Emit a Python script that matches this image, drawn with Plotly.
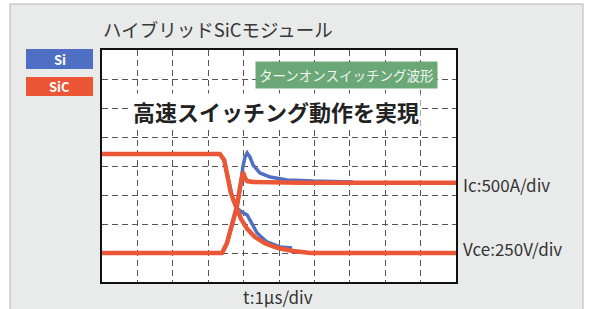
import plotly.graph_objects as go

# time in divisions (1 µs/div), signal in divisions
si_ic_t = [0, 3.39, 3.53, 3.70, 3.81, 3.90, 3.98, 4.04, 4.10, 4.18, 4.27, 4.46, 4.75, 5.23, 5.96, 7.09]
si_ic_v = [1.0, 1.0, 1.34, 2.14, 2.59, 3.17, 3.97, 4.31, 4.45, 4.31, 4.03, 3.76, 3.62, 3.52, 3.48, 3.45]
si_vce_t = [0, 3.33, 3.45, 3.56, 3.70, 3.81, 3.95, 4.10, 4.18, 4.38, 4.66, 5.03, 5.37]
si_vce_v = [4.41, 4.41, 4.21, 3.59, 2.83, 2.55, 2.41, 2.31, 2.14, 1.69, 1.38, 1.21, 1.17]
sic_ic_t = [0, 3.39, 3.53, 3.70, 3.81, 3.90, 3.95, 3.98, 4.04, 4.10, 4.27, 5.59, 10]
sic_ic_v = [1.0, 1.0, 1.34, 2.14, 2.59, 3.28, 3.62, 3.79, 3.59, 3.48, 3.45, 3.42, 3.42]
sic_vce_t = [0, 3.33, 3.45, 3.56, 3.64, 3.79, 3.93, 4.10, 4.32, 4.60, 4.97, 5.40, 5.88, 10]
sic_vce_v = [4.41, 4.41, 4.21, 3.59, 3.07, 2.59, 2.17, 1.83, 1.55, 1.34, 1.17, 1.07, 1.0, 1.0]

BLUE = "#4f6fc4"
RED = "#ea5636"
GREEN = "#6ba877"
FONT = "Noto Sans CJK JP"

fig = go.Figure()
for t, v in [(si_ic_t, si_ic_v), (si_vce_t, si_vce_v)]:
    fig.add_trace(go.Scatter(x=t, y=v, mode="lines", line=dict(color=BLUE, width=3.5),
                             showlegend=False, hoverinfo="skip"))
for t, v in [(sic_ic_t, sic_ic_v), (sic_vce_t, sic_vce_v)]:
    fig.add_trace(go.Scatter(x=t, y=v, mode="lines", line=dict(color=RED, width=4.5),
                             showlegend=False, hoverinfo="skip"))

W, H = 589, 309
L, R, T, B = 102, 456, 50, 282
def px(x):
    return (x - L) / (R - L)
def py(y):
    return (B - y) / (B - T)

shapes = [
    dict(type="rect", xref="paper", yref="paper", x0=px(10), x1=px(583), y0=py(320), y1=py(4),
         fillcolor="#e9ebeb", line=dict(color="#b5b5b5", width=1), layer="below"),
    dict(type="rect", xref="paper", yref="paper", x0=0, x1=1, y0=0, y1=1,
         fillcolor="white", line=dict(width=0), layer="below"),
    dict(type="rect", xref="paper", yref="paper", x0=px(26), x1=px(93), y0=py(69), y1=py(49),
         fillcolor=BLUE, line=dict(width=0)),
    dict(type="rect", xref="paper", yref="paper", x0=px(26), x1=px(93), y0=py(96), y1=py(77),
         fillcolor=RED, line=dict(width=0)),
]

def ann(text, x, y, size, color="#333333", xanchor="center", **kw):
    return dict(text=text, x=px(x), y=py(y), xref="paper", yref="paper", xanchor=xanchor,
                yanchor="middle", showarrow=False, font=dict(family=FONT, size=size, color=color), **kw)

annotations = [
    ann("ハイブリッドSiCモジュール", 101, 29, 18.5, color="#383838", xanchor="left"),
    ann("<b>Si</b>", 59.5, 59, 13, color="white"),
    ann("<b>SiC</b>", 59.5, 86.5, 13, color="white"),
    ann("ターンオンスイッチング波形", 346, 75, 13.5, color="#f4f4f4", bgcolor=GREEN, borderpad=3),
    ann("<b>高速スイッチング動作を実現</b>", 276, 111, 22, color="#222222", bgcolor="white", borderpad=1),
    ann("Ic:500A/div", 461, 184, 17, xanchor="left"),
    ann("Vce:250V/div", 461, 248, 17, xanchor="left"),
    ann("t:1μs/div", 278, 296, 17),
]

axis_common = dict(showgrid=True, gridcolor="#555555", gridwidth=1, griddash="6px,4px", dtick=1,
                   showticklabels=False, ticks="", zeroline=False, showline=True, mirror=True,
                   linecolor="#111111", linewidth=1.5, fixedrange=True)
fig.update_layout(
    width=W, height=H,
    margin=dict(l=L, r=W - R, t=T, b=H - B, pad=0),
    paper_bgcolor="white", plot_bgcolor="white",
    xaxis=dict(range=[0, 10], **axis_common),
    yaxis=dict(range=[0, 8], **axis_common),
    shapes=shapes, annotations=annotations,
)
fig.write_html("out.html", config={"displayModeBar": False},
               post_script="document.body.style.margin='0';document.body.style.overflow='hidden';")
